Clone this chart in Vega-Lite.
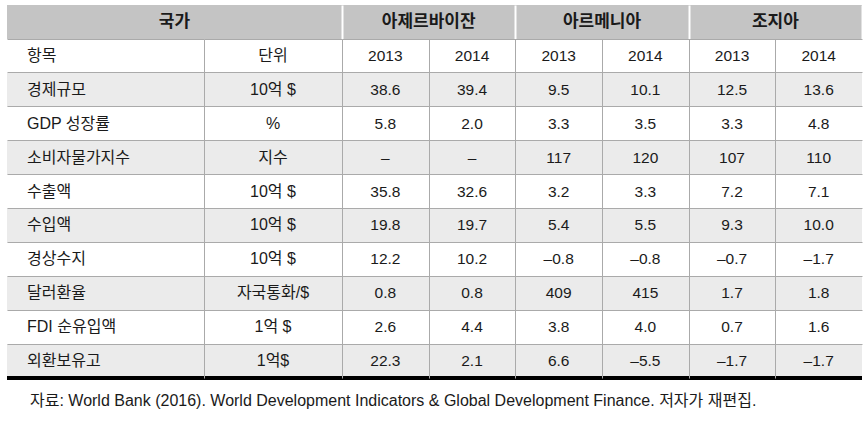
{
  "$schema": "https://vega.github.io/schema/vega-lite/v6.json",
  "padding": 5,
  "background": "white",
  "datasets": {
    "table": [
      {"항목": "항목", "단위": "단위", "아제르바이잔 2013": "2013", "아제르바이잔 2014": "2014", "아르메니아 2013": "2013", "아르메니아 2014": "2014", "조지아 2013": "2013", "조지아 2014": "2014"},
      {"항목": "경제규모", "단위": "10억 $", "아제르바이잔 2013": "38.6", "아제르바이잔 2014": "39.4", "아르메니아 2013": "9.5", "아르메니아 2014": "10.1", "조지아 2013": "12.5", "조지아 2014": "13.6"},
      {"항목": "GDP 성장률", "단위": "%", "아제르바이잔 2013": "5.8", "아제르바이잔 2014": "2.0", "아르메니아 2013": "3.3", "아르메니아 2014": "3.5", "조지아 2013": "3.3", "조지아 2014": "4.8"},
      {"항목": "소비자물가지수", "단위": "지수", "아제르바이잔 2013": "–", "아제르바이잔 2014": "–", "아르메니아 2013": "117", "아르메니아 2014": "120", "조지아 2013": "107", "조지아 2014": "110"},
      {"항목": "수출액", "단위": "10억 $", "아제르바이잔 2013": "35.8", "아제르바이잔 2014": "32.6", "아르메니아 2013": "3.2", "아르메니아 2014": "3.3", "조지아 2013": "7.2", "조지아 2014": "7.1"},
      {"항목": "수입액", "단위": "10억 $", "아제르바이잔 2013": "19.8", "아제르바이잔 2014": "19.7", "아르메니아 2013": "5.4", "아르메니아 2014": "5.5", "조지아 2013": "9.3", "조지아 2014": "10.0"},
      {"항목": "경상수지", "단위": "10억 $", "아제르바이잔 2013": "12.2", "아제르바이잔 2014": "10.2", "아르메니아 2013": "–0.8", "아르메니아 2014": "–0.8", "조지아 2013": "–0.7", "조지아 2014": "–1.7"},
      {"항목": "달러환율", "단위": "자국통화/$", "아제르바이잔 2013": "0.8", "아제르바이잔 2014": "0.8", "아르메니아 2013": "409", "아르메니아 2014": "415", "조지아 2013": "1.7", "조지아 2014": "1.8"},
      {"항목": "FDI 순유입액", "단위": "1억 $", "아제르바이잔 2013": "2.6", "아제르바이잔 2014": "4.4", "아르메니아 2013": "3.8", "아르메니아 2014": "4.0", "조지아 2013": "0.7", "조지아 2014": "1.6"},
      {"항목": "외환보유고", "단위": "1억$", "아제르바이잔 2013": "22.3", "아제르바이잔 2014": "2.1", "아르메니아 2013": "6.6", "아르메니아 2014": "–5.5", "조지아 2013": "–1.7", "조지아 2014": "–1.7"}
    ]
  },
  "spacing": 0,
  "title": {
    "text": "자료: World Bank (2016). World Development Indicators & Global Development Finance. 저자가 재편집.",
    "orient": "bottom",
    "anchor": "start",
    "dx": 25,
    "offset": 13,
    "fontSize": 16,
    "fontWeight": "normal",
    "font": "Liberation Sans, Noto Sans CJK KR",
    "color": "#1a1a1a"
  },
  "vconcat": [
    {
      "hconcat": [
        {
          "width": 335,
          "height": 34,
          "view": {"fill": "#c4c4c4", "stroke": null},
          "data": {"values": [{"이름": "국가"}]},
          "mark": {"type": "text", "fontSize": 17, "fontWeight": "bold", "font": "Noto Sans CJK KR", "color": "#1a1a1a", "baseline": "middle", "align": "center"},
          "encoding": {"text": {"field": "이름"}}
        },
        {
          "width": 520,
          "height": 34,
          "view": {"fill": "#c4c4c4", "stroke": null},
          "data": {"values": [{"국가": "아제르바이잔"}, {"국가": "아르메니아"}, {"국가": "조지아"}]},
          "mark": {"type": "text", "fontSize": 17, "fontWeight": "bold", "font": "Noto Sans CJK KR", "color": "#1a1a1a", "baseline": "middle", "align": "center"},
          "encoding": {
            "x": {"field": "국가", "type": "nominal", "scale": {"domain": ["아제르바이잔", "아르메니아", "조지아"], "paddingInner": 0, "paddingOuter": 0}, "axis": {"labels": false, "ticks": false, "domain": false, "title": null, "grid": true, "gridColor": "white", "gridWidth": 2, "tickBand": "extent", "zindex": 1}},
            "text": {"field": "국가"}
          }
        }
      ],
      "spacing": 0,
      "bounds": "flush"
    },
    {
      "hconcat": [
        {
          "width": 197,
          "height": 339,
          "data": {"name": "table"},
          "layer": [
            {
              "transform": [{"filter": {"field": "항목", "oneOf": ["경제규모", "소비자물가지수", "수입액", "달러환율", "외환보유고"]}}],
              "mark": {"type": "rect", "fill": "#ebebeb"},
              "encoding": {
                "y": {"field": "항목", "type": "nominal", "scale": {"domain": ["항목", "경제규모", "GDP 성장률", "소비자물가지수", "수출액", "수입액", "경상수지", "달러환율", "FDI 순유입액", "외환보유고"], "paddingInner": 0, "paddingOuter": 0}, "axis": {"labels": false, "ticks": false, "domain": false, "title": null, "grid": true, "gridColor": "#aaaaaa", "bandPosition": 0, "zindex": 1}}
              }
            },
            {
              "mark": {"type": "text", "fontSize": 16, "font": "Liberation Sans, Noto Sans CJK KR", "color": "#1a1a1a", "align": "left", "baseline": "middle", "dx": -78.5},
              "encoding": {
                "y": {"field": "항목", "type": "nominal"},
                "text": {"field": "항목"}
              }
            },
            {
              "transform": [{"filter": {"field": "항목", "equal": "외환보유고"}}],
              "mark": {"type": "rule", "color": "black", "strokeWidth": 4},
              "encoding": {"y": {"field": "항목", "type": "nominal", "bandPosition": 1}}
            }
          ]
        },
        {
          "width": 138,
          "height": 339,
          "data": {"name": "table"},
          "layer": [
            {
              "transform": [{"filter": {"field": "항목", "oneOf": ["경제규모", "소비자물가지수", "수입액", "달러환율", "외환보유고"]}}],
              "mark": {"type": "rect", "fill": "#ebebeb"},
              "encoding": {
                "y": {"field": "항목", "type": "nominal", "scale": {"domain": ["항목", "경제규모", "GDP 성장률", "소비자물가지수", "수출액", "수입액", "경상수지", "달러환율", "FDI 순유입액", "외환보유고"], "paddingInner": 0, "paddingOuter": 0}, "axis": {"labels": false, "ticks": false, "domain": true, "domainColor": "#aaaaaa", "title": null, "grid": true, "gridColor": "#aaaaaa", "bandPosition": 0, "zindex": 1}}
              }
            },
            {
              "mark": {"type": "text", "fontSize": 16, "font": "Liberation Sans, Noto Sans CJK KR", "color": "#1a1a1a", "align": "center", "baseline": "middle"},
              "encoding": {
                "y": {"field": "항목", "type": "nominal"},
                "text": {"field": "단위"}
              }
            },
            {
              "transform": [{"filter": {"field": "항목", "equal": "외환보유고"}}],
              "mark": {"type": "rule", "color": "black", "strokeWidth": 4},
              "encoding": {"y": {"field": "항목", "type": "nominal", "bandPosition": 1}}
            }
          ]
        },
        {
          "width": 520,
          "height": 339,
          "data": {"name": "table"},
          "layer": [
            {
              "transform": [{"filter": {"field": "항목", "oneOf": ["경제규모", "소비자물가지수", "수입액", "달러환율", "외환보유고"]}}],
              "mark": {"type": "rect", "fill": "#ebebeb"},
              "encoding": {
                "y": {"field": "항목", "type": "nominal", "scale": {"domain": ["항목", "경제규모", "GDP 성장률", "소비자물가지수", "수출액", "수입액", "경상수지", "달러환율", "FDI 순유입액", "외환보유고"], "paddingInner": 0, "paddingOuter": 0}, "axis": {"labels": false, "ticks": false, "domain": false, "title": null, "grid": true, "gridColor": "#aaaaaa", "bandPosition": 0, "zindex": 1}}
              }
            },
            {
              "transform": [{"fold": ["아제르바이잔 2013", "아제르바이잔 2014", "아르메니아 2013", "아르메니아 2014", "조지아 2013", "조지아 2014"], "as": ["열", "값"]}],
              "mark": {"type": "text", "fontSize": 15.5, "font": "Liberation Sans, Noto Sans CJK KR", "color": "#1a1a1a", "align": "center", "baseline": "middle"},
              "encoding": {
                "x": {"field": "열", "type": "nominal", "scale": {"domain": ["아제르바이잔 2013", "아제르바이잔 2014", "아르메니아 2013", "아르메니아 2014", "조지아 2013", "조지아 2014"], "paddingInner": 0, "paddingOuter": 0}, "axis": {"labels": false, "ticks": false, "domain": false, "title": null, "grid": true, "gridColor": "#aaaaaa", "gridOpacity": {"condition": {"test": "datum.index === 1", "value": 0}, "value": 1}, "tickBand": "extent", "zindex": 1}},
                "y": {"field": "항목", "type": "nominal"},
                "text": {"field": "값"}
              }
            },
            {
              "transform": [{"filter": {"field": "항목", "equal": "외환보유고"}}],
              "mark": {"type": "rule", "color": "black", "strokeWidth": 4},
              "encoding": {"y": {"field": "항목", "type": "nominal", "bandPosition": 1}}
            }
          ]
        }
      ],
      "spacing": 0,
      "bounds": "flush"
    }
  ],
  "config": {
    "view": {"stroke": null},
    "concat": {"spacing": 0}
  }
}
